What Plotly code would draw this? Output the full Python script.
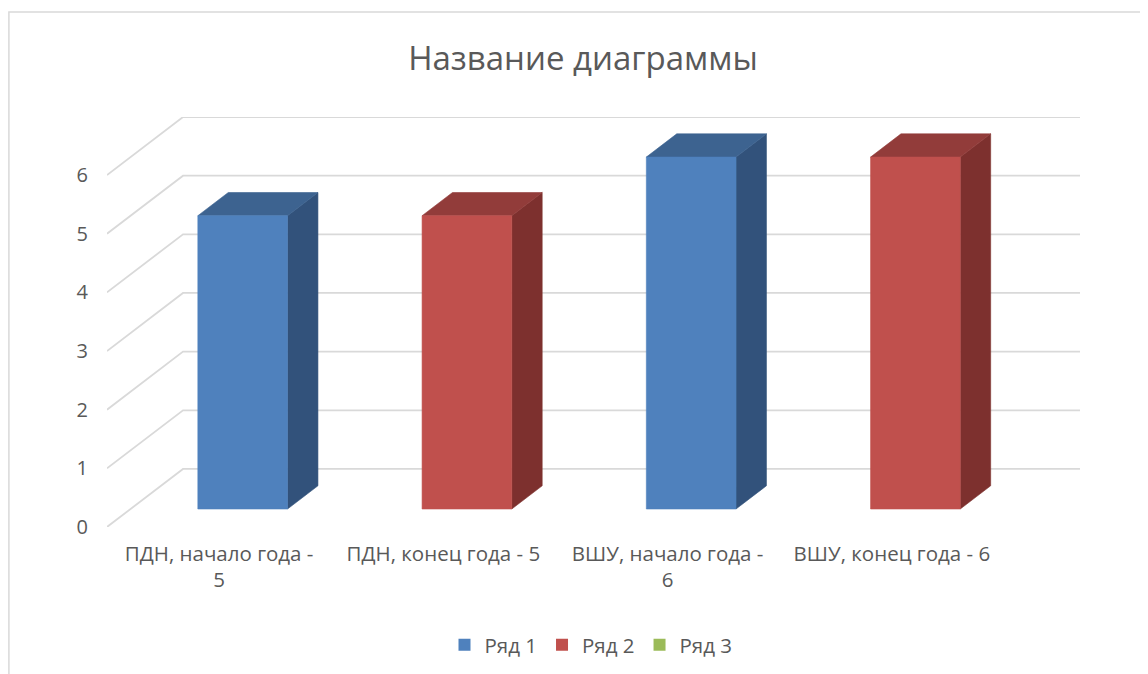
import plotly.graph_objects as go

# ---- data ----
categories = ["ПДН, начало года - 5", "ПДН, конец года - 5",
              "ВШУ, начало года - 6", "ВШУ, конец года - 6"]
tick_labels = ["ПДН, начало года -<br>5", "ПДН, конец года - 5",
               "ВШУ, начало года -<br>6", "ВШУ, конец года - 6"]
series_names = ["Ряд 1", "Ряд 2", "Ряд 3"]
ryad1 = [5, None, 6, None]
ryad2 = [None, 5, None, 6]
ryad3 = [None, None, None, None]
y_ticks = [0, 1, 2, 3, 4, 5, 6]

# ---- style / geometry ----
colors = {
    "Ряд 1": ("#4F81BD", "#3D6390", "#32527B"),
    "Ряд 2": ("#C0504D", "#923C3A", "#7D302E"),
    "Ряд 3": ("#9BBB59", "#778F44", "#66793A"),
}
DEPTH_X = 0.339   # x shift (category units) across full floor depth
DEPTH_Y = 0.99    # y shift (value units) across full floor depth
BAR_W = 0.40
D0, D1 = 0.31, 0.71
N = len(categories)
YMAX = max(y_ticks)
GRID = "#D9D9D9"
TXT = "#595959"
FONT = "Open Sans"

fig = go.Figure()

# back-wall and side gridlines
for v in y_ticks:
    fig.add_trace(go.Scatter(
        x=[0, DEPTH_X, N + DEPTH_X], y=[v, v + DEPTH_Y, v + DEPTH_Y],
        mode="lines", line=dict(color=GRID, width=1.8),
        showlegend=False, hoverinfo="skip"))


def add_bar(i, val, name):
    front, top, side = colors[name]
    xl0 = i + 0.5 - BAR_W / 2 + D0 * DEPTH_X
    xr0 = xl0 + BAR_W
    xl1 = i + 0.5 - BAR_W / 2 + D1 * DEPTH_X
    xr1 = xl1 + BAR_W
    b0, b1 = D0 * DEPTH_Y, D1 * DEPTH_Y
    t0, t1 = val + b0, val + b1
    faces = [
        ([xr0, xr1, xr1, xr0, xr0], [b0, b1, t1, t0, b0], side),
        ([xl0, xr0, xr1, xl1, xl0], [t0, t0, t1, t1, t0], top),
        ([xl0, xr0, xr0, xl0, xl0], [b0, b0, t0, t0, b0], front),
    ]
    for fx, fy, c in faces:
        fig.add_trace(go.Scatter(
            x=fx, y=fy, fill="toself", fillcolor=c, mode="lines",
            line=dict(color=c, width=0.6), legendgroup=name,
            showlegend=False, hoverinfo="text",
            text=f"{name}: {categories[i]} = {val}"))


for name, vals in zip(series_names, [ryad1, ryad2, ryad3]):
    for i, v in enumerate(vals):
        if v is not None:
            add_bar(i, v, name)

# legend entries
for name in series_names:
    fig.add_trace(go.Scatter(
        x=[None], y=[None], mode="markers", name=name, legendgroup=name,
        marker=dict(symbol="square", size=12, color=colors[name][0]),
        showlegend=True))

# page body has an 8px margin: shift everything by -8 px
OFF = 8
W, H = 1148 - OFF, 674 - OFF
L, T = 107 - OFF, 117 - OFF
R = W - (1080 - OFF)
B = H - (527 - OFF)
ph = H - T - B
pw = W - L - R


def py(px):
    return (H - B - (px - OFF)) / ph


def pxx(px):
    return ((px - OFF) - L) / pw


fig.update_layout(
    width=W, height=H,
    margin=dict(l=L, r=R, t=T, b=B, autoexpand=False),
    paper_bgcolor="white", plot_bgcolor="white",
    font=dict(family=FONT, color=TXT),
    title=dict(text="Название диаграммы", x=pxx(583),
               xref="paper", xanchor="center", y=1 - (58 - OFF) / H,
               yanchor="middle",
               font=dict(size=33, color=TXT, family=FONT)),
    xaxis=dict(range=[0, N + DEPTH_X], showgrid=False, zeroline=False,
               showline=False, tickmode="array",
               tickvals=[i + 0.5 for i in range(N)], ticktext=tick_labels,
               tickfont=dict(size=20.5, color=TXT), ticks="",
               ticklabelstandoff=12, fixedrange=True),
    yaxis=dict(range=[0, YMAX + DEPTH_Y], showgrid=False, zeroline=False,
               showline=False, tickmode="array", tickvals=y_ticks,
               tickfont=dict(size=20, color=TXT), ticks="",
               ticklabelstandoff=18, fixedrange=True),
    legend=dict(orientation="h", x=pxx(591), xanchor="center",
                y=py(645), yanchor="middle", font=dict(size=20.5, color=TXT),
                itemwidth=30, bgcolor="rgba(0,0,0,0)"),
    shapes=[dict(type="rect", xref="paper", yref="paper",
                 x0=pxx(8.9), x1=pxx(1170), y0=py(700), y1=py(12),
                 line=dict(color="#D9D9D9", width=1.5), layer="below")],
    showlegend=True,
)

fig.write_html("out.html")
